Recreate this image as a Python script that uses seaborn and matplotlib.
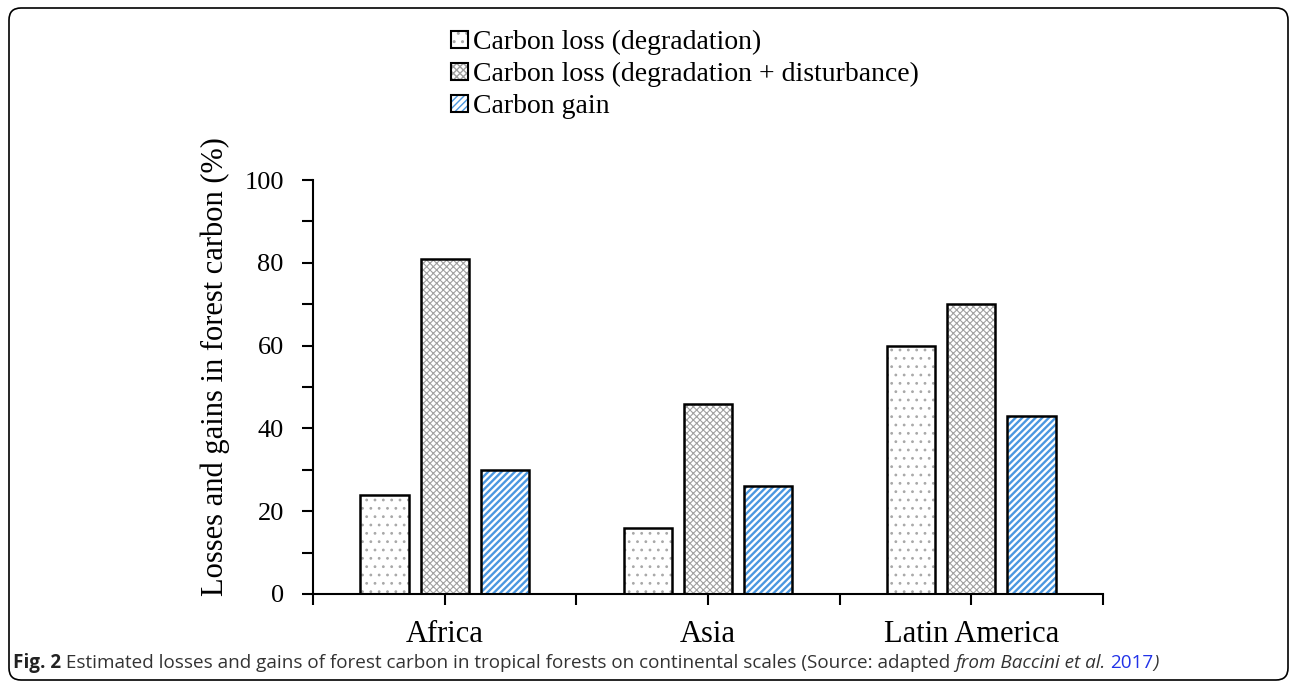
"""Losses and gains of forest carbon by continent (hatched grouped bars)."""

import matplotlib.pyplot as plt
import pandas as pd
import seaborn as sns
from matplotlib.legend_handler import HandlerTuple
from matplotlib.patches import FancyBboxPatch, Patch, Rectangle

# data
regions = ["Africa", "Asia", "Latin America"]
series = [
    "Carbon loss (degradation)",
    "Carbon loss (degradation + disturbance)",
    "Carbon gain",
]
loss_degradation = [24, 16, 60]
loss_total = [81, 46, 70]
carbon_gain = [30, 26, 43]

hatches = ["..", "xxxxx", "/////"]
hatch_colors = ["#a8a8a8", "#a0a0a0", "#4a97e0"]
hatch_widths = [0.8, 0.8, 1.7]

df = pd.DataFrame(
    {
        "region": regions * 3,
        "series": [s for s in series for _ in regions],
        "value": loss_degradation + loss_total + carbon_gain,
    }
)

sns.set_theme(style="ticks")
plt.rcParams["font.family"] = ["Liberation Serif", "DejaVu Serif"]
plt.rcParams["text.color"] = "black"
plt.rcParams["hatch.linewidth"] = 1.0

fig = plt.figure(figsize=(12.9, 6.85), dpi=100)
ax = fig.add_axes([313 / 1290, 1 - 594 / 685, 790 / 1290, 414 / 685])

sns.barplot(
    data=df,
    x="region",
    y="value",
    hue="series",
    hue_order=series,
    palette=["white"] * 3,
    saturation=1,
    width=0.685,
    gap=0.2,
    legend=False,
    ax=ax,
)


def style_hatch(patch, hatch, color, width):
    patch.set_hatch(hatch)
    patch.set_edgecolor(color)
    patch.set_linewidth(0)
    if hasattr(patch, "set_hatch_linewidth"):
        patch.set_hatch_linewidth(width)


# hatch colour follows the edge colour, so draw the black outline separately
for container, hatch, hc, hw in zip(ax.containers, hatches, hatch_colors, hatch_widths):
    for bar in container:
        style_hatch(bar, hatch, hc, hw)
        ax.add_patch(
            Rectangle(
                bar.get_xy(),
                bar.get_width(),
                bar.get_height(),
                fill=False,
                edgecolor="black",
                linewidth=1.8,
                zorder=3,
            )
        )

ax.set_xlim(-0.5, 2.5)
ax.set_ylim(0, 100)
ax.set_yticks(range(0, 101, 20))
ax.set_yticks(range(10, 100, 20), minor=True)
ax.set_xticks([-0.5, 0.5, 1.5, 2.5], minor=True)
ax.set_xlabel("")
ax.set_ylabel("Losses and gains in forest carbon (%)", fontsize=22, color="black")
ax.yaxis.set_label_coords(-0.105, 0.55)

for side in ["top", "right"]:
    ax.spines[side].set_visible(False)
for side in ["left", "bottom"]:
    ax.spines[side].set_linewidth(1.5)
    ax.spines[side].set_color("black")

ax.tick_params(axis="both", which="both", direction="out", length=8,
               width=1.5, color="black", labelcolor="black")
ax.tick_params(axis="x", which="major", labelsize=22, pad=11)
ax.tick_params(axis="y", which="major", labelsize=19, pad=13)

# legend: hatched swatch overlaid with a black outline
handles = []
for h, hc, hw in zip(hatches, hatch_colors, hatch_widths):
    swatch = Patch(facecolor="white")
    style_hatch(swatch, h, hc, hw)
    handles.append((swatch, Patch(fill=False, edgecolor="black", linewidth=1.5)))

fig.legend(
    handles,
    series,
    handler_map={tuple: HandlerTuple(ndivide=1, pad=0)},
    loc="upper left",
    bbox_to_anchor=(451 / 1290, 1 - 30 / 685),
    frameon=False,
    fontsize=20,
    labelcolor="black",
    handlelength=0.6,
    handleheight=0.6,
    handletextpad=0.2,
    labelspacing=0.25,
    borderpad=0,
    borderaxespad=0,
)

# caption under the chart, pieces laid end to end on one baseline
cap_font = dict(fontfamily=["Open Sans", "DejaVu Sans"], fontsize=13.55, va="baseline")
pieces = [
    ("Fig. 2", "normal", "bold", "#222222"),
    (" Estimated losses and gains of forest carbon in tropical forests on "
     "continental scales (Source: adapted ", "normal", "normal", "#333333"),
    ("from Baccini et al. ", "italic", "normal", "#333333"),
    ("2017", "normal", "normal", "#2233e8"),
    (")", "italic", "normal", "#333333"),
]
renderer = fig.canvas.get_renderer()
x_px = 13
for text, style, weight, color in pieces:
    t = fig.text(x_px / 1290, 1 - 668 / 685, text, fontstyle=style,
                 fontweight=weight, color=color, **cap_font)
    x_px = t.get_window_extent(renderer).x1

# rounded frame around the whole figure
fig.patches.append(
    FancyBboxPatch(
        (0.09, 0.05),
        12.79,
        6.72,
        boxstyle="round,pad=0,rounding_size=0.12",
        transform=fig.dpi_scale_trans,
        fill=False,
        edgecolor="black",
        linewidth=1.2,
    )
)

fig.savefig("out.png", dpi=100)
